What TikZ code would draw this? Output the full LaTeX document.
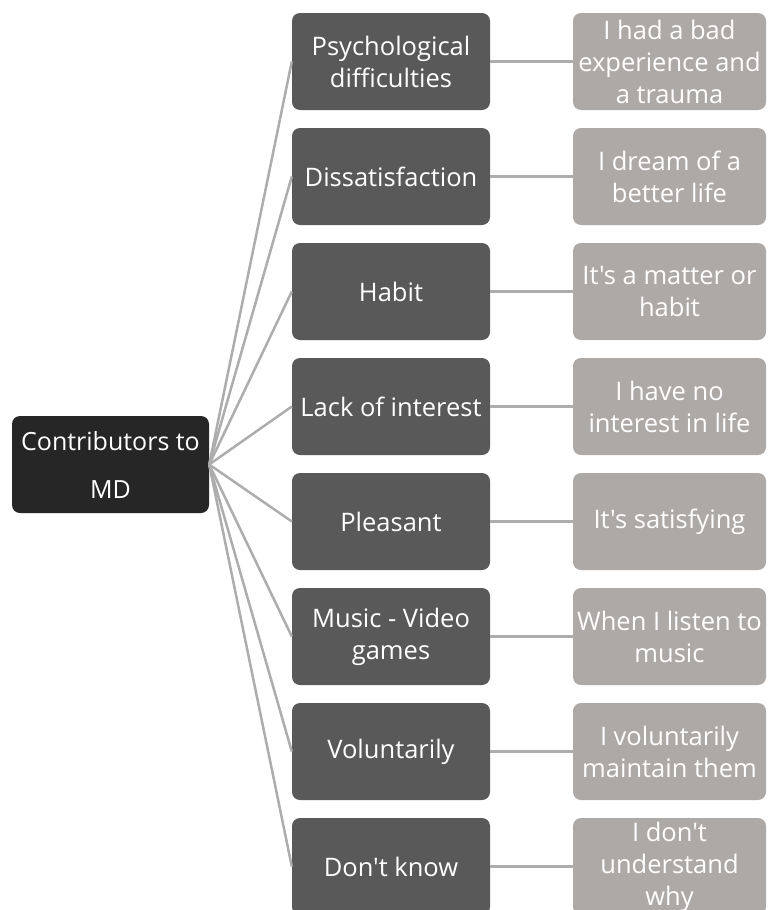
\documentclass[tikz,border=0pt]{standalone}
\usepackage{fontspec}
\setmainfont{Open Sans}[Ligatures=TeXOff]
\definecolor{rootc}{HTML}{262626}
\definecolor{midc}{HTML}{595959}
\definecolor{leafc}{HTML}{ADA9A7}
\definecolor{linec}{HTML}{ADADAD}
\begin{document}
\begin{tikzpicture}[x=1pt,y=-1pt,
 box/.style={rounded corners=8pt, minimum width=198pt, minimum height=97pt, align=center, text=white, inner sep=0pt, font=\fontsize{25.5}{32}\selectfont},
 rootbox/.style={box, fill=rootc, minimum width=197pt, font=\fontsize{25}{48}\selectfont},
 midbox/.style={box, fill=midc},
 leafbox/.style={box, fill=leafc, minimum width=193pt},
 conn/.style={draw=linec, line width=2.5pt}]
\useasboundingbox (0,0) rectangle (769,910);
\clip (0,0) rectangle (769,910);
\node[rootbox] (r) at (110.5,464.5) {Contributors to\\MD};
\node[midbox] (m1) at (391,61.5) {Psychological\\difficulties};
\node[midbox] (m2) at (391,176.5) {Dissatisfaction};
\node[midbox] (m3) at (391,291.5) {Habit};
\node[midbox] (m4) at (391,406.5) {Lack of interest};
\node[midbox] (m5) at (391,521.5) {Pleasant};
\node[midbox] (m6) at (391,636.5) {Music - Video\\games};
\node[midbox] (m7) at (391,751.5) {Voluntarily};
\node[midbox] (m8) at (391,866.5) {Don't know};
\node[leafbox] (l1) at (669.5,61.5) {I had a bad\\experience and\\a trauma};
\node[leafbox] (l2) at (669.5,176.5) {I dream of a\\better life};
\node[leafbox] (l3) at (669.5,291.5) {It's a matter or\\habit};
\node[leafbox] (l4) at (669.5,406.5) {I have no\\interest in life};
\node[leafbox] (l5) at (669.5,521.5) {It's satisfying};
\node[leafbox] (l6) at (669.5,636.5) {When I listen to\\music};
\node[leafbox] (l7) at (669.5,751.5) {I voluntarily\\maintain them};
\node[leafbox] (l8) at (669.5,866.5) {I don't\\understand\\why};
\foreach \i in {1,...,8}{
  \draw[conn] (r.east) -- (m\i.west);
  \draw[conn] (m\i.east) -- (l\i.west);
}
\end{tikzpicture}
\end{document}
